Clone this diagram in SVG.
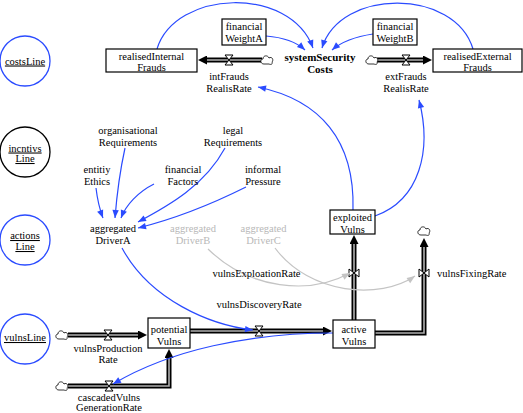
<svg xmlns="http://www.w3.org/2000/svg" width="523" height="413" viewBox="0 0 523 413" font-family="'Liberation Serif', 'Times New Roman', 'DejaVu Serif', serif">
<style>
text{font-family:'Liberation Serif','Times New Roman','DejaVu Serif',serif;font-size:10.5px;fill:#000;text-anchor:middle}
.bold{font-weight:bold;font-size:11px}
.ghost{fill:#b8b8b8}
.u{text-decoration:underline}
.box{fill:#fff;stroke:#000;stroke-width:1.2}
.ring{fill:#fff;stroke:#2a4bff;stroke-width:1.3}
.ringk{fill:#fff;stroke:#000;stroke-width:1.3}
.pipeo{fill:none;stroke:#000;stroke-width:5}
.pipei{fill:none;stroke:#b0b0b0;stroke-width:1.6}
.link{fill:none;stroke:#2a4bff;stroke-width:1.2;marker-end:url(#ab)}
.glink{fill:none;stroke:#c4c4c4;stroke-width:1.2;marker-end:url(#ag)}
.valve{fill:#fff;stroke:#000;stroke-width:1}
.cloud{fill:#fff;stroke:#000;stroke-width:0.8}
</style>
<defs>
<marker id="ab" viewBox="0 0 10 10" refX="10" refY="5" markerWidth="9" markerHeight="8" markerUnits="userSpaceOnUse" orient="auto"><path d="M0,1 L10,5 L0,9 z" fill="#2a4bff"/></marker>
<marker id="ag" viewBox="0 0 10 10" refX="10" refY="5" markerWidth="9" markerHeight="8" markerUnits="userSpaceOnUse" orient="auto"><path d="M0,1 L10,5 L0,9 z" fill="#c4c4c4"/></marker>
<marker id="ap" viewBox="0 0 10 10" refX="0" refY="5" markerWidth="10" markerHeight="9" markerUnits="userSpaceOnUse" orient="auto"><path d="M0,0 L10,5 L0,10 z" fill="#000"/></marker>
<path id="cl" class="cloud" d="M-3,4 C-7,4 -7,-1 -4,-1 C-4,-5 1,-5 2,-2 C5,-4 7,0 5,2 C6,4 4,5 2,4 Z"/>
<path id="vh" class="valve" d="M-4,-5 H4 L-4,5 H4 Z"/>
<path id="vv" class="valve" d="M-5,-4 V4 L5,-4 V4 Z"/>
</defs>
<rect width="523" height="413" fill="#fff"/>

<g id="connectors">
  <path class="pipeo" d="M262,60 H207" marker-end="url(#ap)"/><path class="pipei" d="M262,60 H207"/>
  <path class="pipeo" d="M377,60 H423" marker-end="url(#ap)"/><path class="pipei" d="M377,60 H423"/>
  <path class="pipeo" d="M68,335 H138" marker-end="url(#ap)"/><path class="pipei" d="M68,335 H138"/>
  <path class="pipeo" d="M68,386 H169 V358" marker-end="url(#ap)"/><path class="pipei" d="M68,386 H169 V358"/>
  <path class="pipeo" d="M190,331 H323" marker-end="url(#ap)"/><path class="pipei" d="M190,331 H323"/>
  <path class="pipeo" d="M354,320 V244" marker-end="url(#ap)"/><path class="pipei" d="M354,320 V244"/>
  <path class="pipeo" d="M375,333 H424 V247" marker-end="url(#ap)"/><path class="pipei" d="M375,333 H424 V247"/>
  <use href="#cl" x="267" y="60"/>
  <use href="#cl" x="372" y="60"/>
  <use href="#cl" x="62" y="335"/>
  <use href="#cl" x="62" y="386"/>
  <use href="#cl" x="424" y="231"/>
  <use href="#vh" x="229" y="60"/>
  <use href="#vh" x="406" y="60"/>
  <use href="#vh" x="108" y="335"/>
  <use href="#vh" x="109" y="386"/>
  <use href="#vh" x="259" y="331"/>
  <use href="#vv" x="354" y="273"/>
  <use href="#vv" x="424" y="273"/>
  <path class="link" d="M157,49 C175,-10 290,-15 313,48"/>
  <path class="link" d="M473,49 C455,-12 340,-12 322,48"/>
  <path class="link" d="M266,36 Q292,38 305,50"/>
  <path class="link" d="M373,34 Q346,38 332,50"/>
  <path class="link" d="M353,210 C355,140 320,100 258,87"/>
  <path class="link" d="M375,216 C420,200 432,150 419,100"/>
  <path class="link" d="M122,248 C150,300 210,325 253,330"/>
  <path class="link" d="M333,333 C250,333 170,350 113,384"/>
  <path class="link" d="M96,188 Q98,205 103,218"/>
  <path class="link" d="M125,148 Q118,180 115,218"/>
  <path class="link" d="M154,184 C138,192 126,205 121,218"/>
  <path class="link" d="M225,148 C205,185 170,205 138,222"/>
  <path class="link" d="M246,187 C210,205 170,220 138,228"/>
  <path class="glink" d="M208,249 C250,290 310,295 350,273"/>
  <path class="glink" d="M275,248 C310,295 380,300 415,276"/>
</g>

<g id="costsLine"><circle class="ring" cx="25" cy="61" r="25"/><text class="u" x="25" y="64.5">costsLine</text></g>
<g id="incntivsLine"><circle class="ringk" cx="25" cy="152" r="25"/><text class="u" x="25" y="151.5">incntivs</text><text class="u" x="25" y="162">Line</text></g>
<g id="actionsLine"><circle class="ring" cx="25" cy="240" r="25"/><text class="u" x="25" y="239">actions</text><text class="u" x="25" y="250">Line</text></g>
<g id="vulnsLine"><circle class="ring" cx="25" cy="339" r="25"/><text class="u" x="25" y="341">vulnsLine</text></g>

<g id="realisedInternalFrauds"><rect class="box" x="106" y="49" width="91" height="23"/><text x="151.5" y="59.5">realisedInternal</text><text x="151.5" y="70.5">Frauds</text></g>
<g id="financialWeightA"><rect class="box" x="222" y="19" width="44" height="26"/><text x="244" y="30">financial</text><text x="244" y="42">WeightA</text></g>
<g id="systemSecurityCosts"><text class="bold" x="320" y="61">systemSecurity</text><text class="bold" x="320" y="73">Costs</text></g>
<g id="financialWeightB"><rect class="box" x="373" y="19" width="44" height="26"/><text x="395" y="30">financial</text><text x="395" y="42">WeightB</text></g>
<g id="realisedExternalFrauds"><rect class="box" x="433" y="49" width="89" height="23"/><text x="477.5" y="59.5">realisedExternal</text><text x="477.5" y="70.5">Frauds</text></g>
<g id="intFraudsRealisRate"><text x="229" y="80">intFrauds</text><text x="229" y="92">RealisRate</text></g>
<g id="extFraudsRealisRate"><text x="406" y="80">extFrauds</text><text x="406" y="92">RealisRate</text></g>

<g id="organisationalRequirements"><text x="128" y="133.5">organisational</text><text x="128" y="145.5">Requirements</text></g>
<g id="legalRequirements"><text x="233" y="133.5">legal</text><text x="233" y="145.5">Requirements</text></g>
<g id="entitiyEthics"><text x="97" y="172.5">entitiy</text><text x="97" y="184.5">Ethics</text></g>
<g id="financialFactors"><text x="183" y="172.5">financial</text><text x="183" y="184.5">Factors</text></g>
<g id="informalPressure"><text x="263" y="172.5">informal</text><text x="263" y="184.5">Pressure</text></g>
<g id="aggregatedDriverA"><text x="113" y="231.5">aggregated</text><text x="113" y="243.5">DriverA</text></g>
<g id="aggregatedDriverB"><text class="ghost" x="193" y="231.5">aggregated</text><text class="ghost" x="193" y="243.5">DriverB</text></g>
<g id="aggregatedDriverC"><text class="ghost" x="263.5" y="231.5">aggregated</text><text class="ghost" x="263.5" y="243.5">DriverC</text></g>

<g id="exploitedVulns"><rect class="box" x="330" y="210" width="45" height="24"/><text x="352.5" y="221">exploited</text><text x="352.5" y="232.5">Vulns</text></g>
<g id="vulnsExploationRate"><text x="256.5" y="276.5">vulnsExploationRate</text></g>
<g id="vulnsFixingRate"><text x="437" y="276.5" style="text-anchor:start">vulnsFixingRate</text></g>
<g id="vulnsDiscoveryRate"><text x="259" y="307.5">vulnsDiscoveryRate</text></g>
<g id="potentialVulns"><rect class="box" x="148" y="318" width="42" height="30"/><text x="169" y="333">potential</text><text x="169" y="344.5">Vulns</text></g>
<g id="activeVulns"><rect class="box" x="333" y="320" width="42" height="28"/><text x="354" y="332.5">active</text><text x="354" y="344.5">Vulns</text></g>
<g id="vulnsProductionRate"><text x="108" y="351.5">vulnsProduction</text><text x="108" y="363">Rate</text></g>
<g id="cascadedVulnsGenerationRate"><text x="109" y="400.5">cascadedVulns</text><text x="109" y="410.5">GenerationRate</text></g>
</svg>
